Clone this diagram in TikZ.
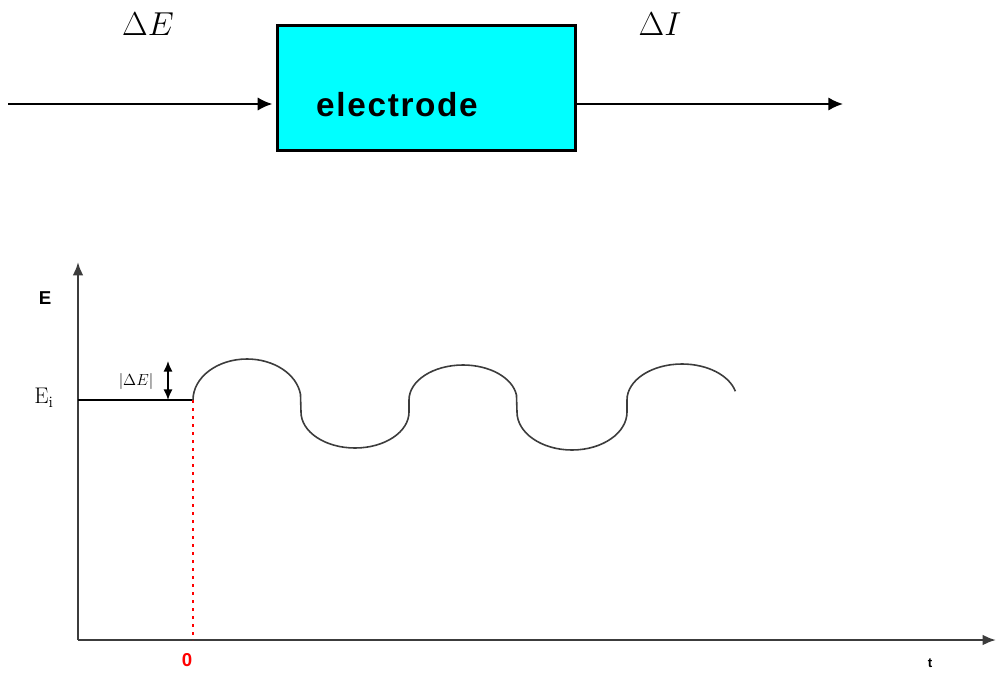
\documentclass[tikz,border=0pt]{standalone}
\usepackage{fontspec}
\setsansfont{Liberation Sans}
\usetikzlibrary{arrows.meta}
\definecolor{boxcyan}{RGB}{0,255,255}
\definecolor{axgray}{RGB}{60,60,60}
\definecolor{wavegray}{RGB}{60,60,60}
\tikzset{
  arr/.style={line width=1.5pt, -{Latex[length=11pt,width=10pt]}},
  axis/.style={line width=1.7pt, axgray, -{Latex[length=10pt,width=8pt]}},
  wave/.style={line width=1.2pt, wavegray},
  blockbox/.style={draw=black, line width=2.2pt, fill=boxcyan, minimum width=223pt, minimum height=94pt, inner sep=0pt},
  bigmath/.style={font=\fontsize{23}{25}\selectfont},
  redline/.style={red, line width=1.8pt, dash pattern=on 2.5pt off 3.5pt},
}
\begin{document}
\begin{tikzpicture}[x=0.75pt,y=-0.75pt]
\useasboundingbox (0,0) rectangle (996,675);
% block diagram
\node[blockbox] (box) at (426.5,88) {};
\node[font=\sffamily\bfseries\fontsize{25}{27}\selectfont\addfontfeatures{LetterSpace=5}] (lbl) at (397,105) {electrode};
\coordinate (inS) at (8,104);
\coordinate (outE) at (843,104);
\draw[arr, shorten >=3pt] (inS) -- (inS -| box.west);
\draw[arr] (outE -| box.east) -- (outE);
\node[bigmath] (dE) at (148,24) {$\Delta E$};
\node[bigmath] (dI) at (660,24) {$\Delta I$};
% axes
\coordinate (O) at (78,640);
\coordinate (ytop) at (78,262);
\coordinate (xend) at (996,640);
\draw[axis] (O) -- (ytop);
\draw[axis] (O) -- (xend);
\node[font=\sffamily\bfseries\fontsize{14}{16}\selectfont] (Elab) at (45,298) {E};
\node[font=\fontsize{17}{19}\selectfont] (Ei) at (44,398) {E$_{\mathrm{i}}$};
\node[font=\sffamily\bfseries\fontsize{10}{12}\selectfont] (tlab) at (930,663) {t};
\node[font=\sffamily\bfseries\fontsize{14}{16}\selectfont, red] (zero) at (187,660) {0};
% Ei level and t=0
\coordinate (Eiax) at (78,400);
\coordinate (t0) at (193,400);
\coordinate (t0b) at (193,640);
\draw[line width=1.3pt, black] (Eiax) -- (t0);
\draw[redline] (t0) -- (t0b);
% amplitude marker
\coordinate (ampTop) at (168,361);
\coordinate (ampBot) at (168,400);
\draw[line width=1.3pt, {Latex[length=8pt,width=7pt]}-{Latex[length=8pt,width=7pt]}] (ampTop) -- (ampBot);
\node[font=\fontsize{13}{15}\selectfont] (amp) at (136,381) {$|\Delta E|$};
% wave
\draw[wave] (t0) arc[start angle=180, end angle=352, x radius=54, y radius=41]
  -- (301,412) arc[start angle=180, end angle=0, x radius=54, y radius=36]
  -- (409,400) arc[start angle=180, end angle=352, x radius=54, y radius=35]
  -- (517,412) arc[start angle=180, end angle=0, x radius=55, y radius=38]
  -- (627,400) arc[start angle=180, end angle=346, x radius=55, y radius=36];
\end{tikzpicture}
\end{document}
